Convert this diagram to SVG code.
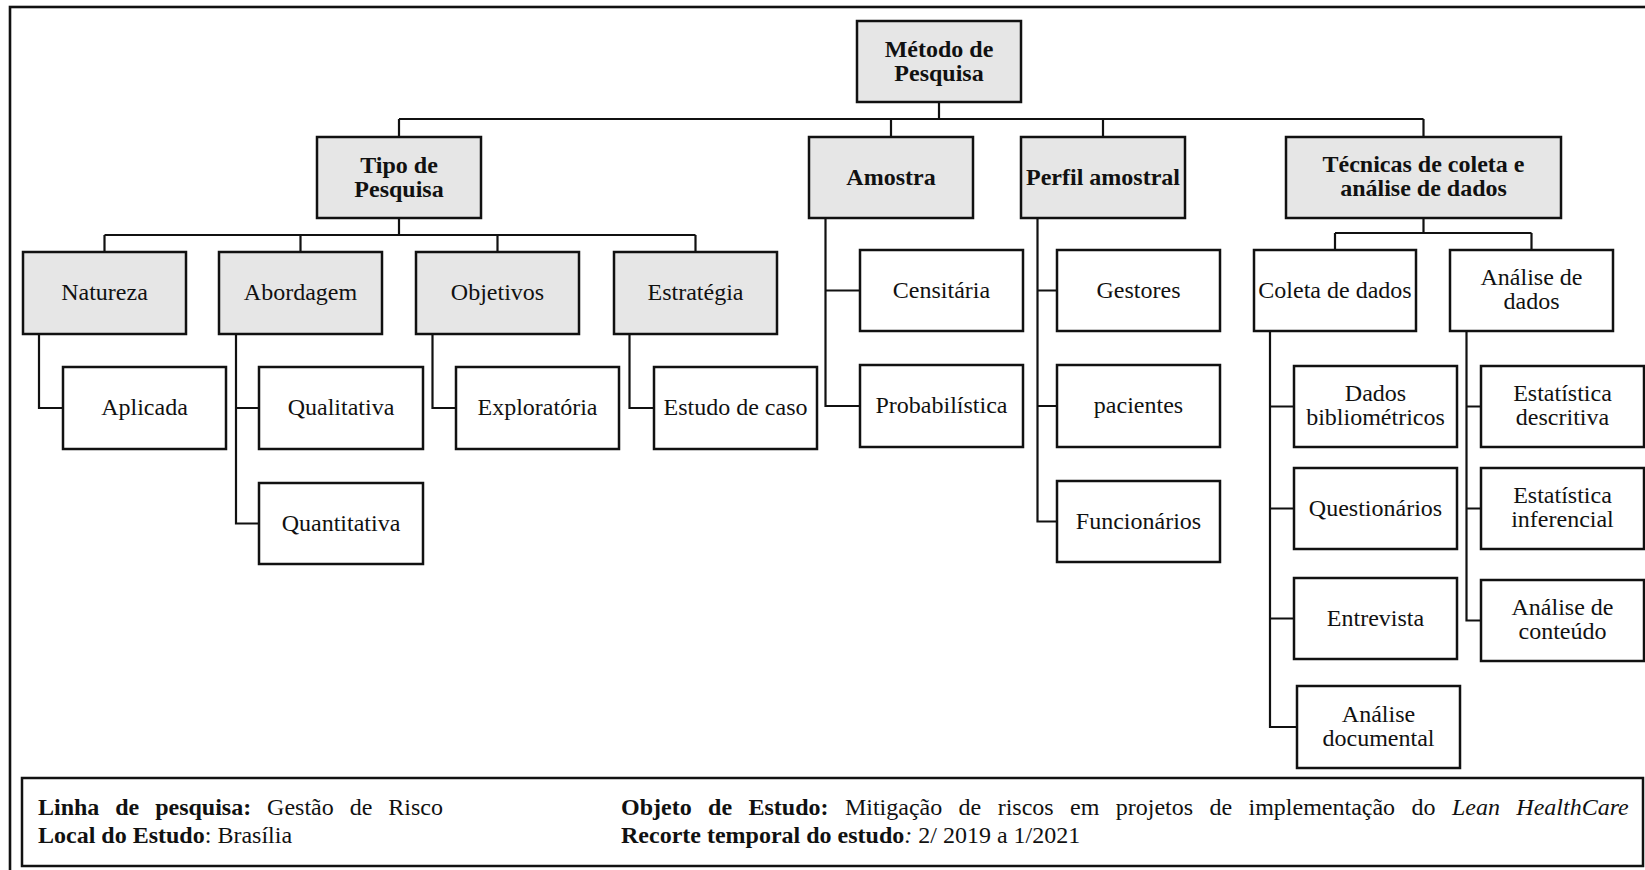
<svg xmlns="http://www.w3.org/2000/svg" width="1645" height="870" viewBox="0 0 1645 870">
  <style>
    .frame { fill: none; stroke: #111; stroke-width: 2.6; }
    .box { fill: #ffffff; stroke: #111; stroke-width: 2.5; }
    .hd { fill: #e6e6e6; }
    .link { fill: none; stroke: #111; stroke-width: 2.2; }
    text { font-family: "Liberation Serif", "Times New Roman", serif; font-size: 24px; fill: #111; }
    .t { text-anchor: middle; }
    .b { font-weight: bold; }
    .i { font-style: italic; }
  </style>
  <rect width="1645" height="870" fill="#ffffff"/>

  <!-- outer frame (open to the right and bottom) -->
  <rect class="frame" x="10" y="7" width="1660" height="880"/>

  <!-- connectors -->
  <g id="connectors" class="link">
    <path d="M939,102 V119 M399,119 H1423.5 M399,119 V137 M891,119 V137 M1103,119 V137 M1423.5,119 V137"/>
    <path d="M399,218 V235 M104.5,235 H695.5 M104.5,235 V252 M300.5,235 V252 M497.5,235 V252 M695.5,235 V252"/>
    <path d="M39,334 V408 H63"/>
    <path d="M236,334 V523.5 H259 M236,408 H259"/>
    <path d="M432.5,334 V408 H456"/>
    <path d="M629.5,334 V408 H654"/>
    <path d="M825.5,218 V406 H860 M825.5,290.5 H860"/>
    <path d="M1037.5,218 V521.5 H1057 M1037.5,290.5 H1057 M1037.5,406 H1057"/>
    <path d="M1423.5,218 V233 M1335,233 H1531.5 M1335,233 V250 M1531.5,233 V250"/>
    <path d="M1270,331 V727 H1297 M1270,406.5 H1294 M1270,508.5 H1294 M1270,618.5 H1294"/>
    <path d="M1466.5,331 V620.5 H1481 M1466.5,406.5 H1481 M1466.5,508.5 H1481"/>
  </g>

  <!-- level 0 -->
  <g id="metodo">
    <rect class="box hd" x="857" y="21" width="164" height="81"/>
    <text class="t b" x="939" y="57">Método de</text>
    <text class="t b" x="939" y="81">Pesquisa</text>
  </g>

  <!-- level 1 -->
  <g id="tipo">
    <rect class="box hd" x="317" y="137" width="164" height="81"/>
    <text class="t b" x="399" y="173">Tipo de</text>
    <text class="t b" x="399" y="197">Pesquisa</text>
  </g>
  <g id="amostra">
    <rect class="box hd" x="809" y="137" width="164" height="81"/>
    <text class="t b" x="891" y="185">Amostra</text>
  </g>
  <g id="perfil">
    <rect class="box hd" x="1021" y="137" width="164" height="81"/>
    <text class="t b" x="1103" y="185">Perfil amostral</text>
  </g>
  <g id="tecnicas">
    <rect class="box hd" x="1286" y="137" width="275" height="81"/>
    <text class="t b" x="1423.5" y="172">Técnicas de coleta e</text>
    <text class="t b" x="1423.5" y="196">análise de dados</text>
  </g>

  <!-- level 2 under "Tipo de Pesquisa" -->
  <g id="natureza">
    <rect class="box hd" x="23" y="252" width="163" height="82"/>
    <text class="t" x="104.5" y="300">Natureza</text>
  </g>
  <g id="abordagem">
    <rect class="box hd" x="219" y="252" width="163" height="82"/>
    <text class="t" x="300.5" y="300">Abordagem</text>
  </g>
  <g id="objetivos">
    <rect class="box hd" x="416" y="252" width="163" height="82"/>
    <text class="t" x="497.5" y="300">Objetivos</text>
  </g>
  <g id="estrategia">
    <rect class="box hd" x="614" y="252" width="163" height="82"/>
    <text class="t" x="695.5" y="300">Estratégia</text>
  </g>

  <!-- level 3 under "Tipo de Pesquisa" -->
  <g id="aplicada">
    <rect class="box" x="63" y="367" width="163" height="82"/>
    <text class="t" x="144.5" y="415">Aplicada</text>
  </g>
  <g id="qualitativa">
    <rect class="box" x="259" y="367" width="164" height="82"/>
    <text class="t" x="341" y="415">Qualitativa</text>
  </g>
  <g id="quantitativa">
    <rect class="box" x="259" y="483" width="164" height="81"/>
    <text class="t" x="341" y="531">Quantitativa</text>
  </g>
  <g id="exploratoria">
    <rect class="box" x="456" y="367" width="163" height="82"/>
    <text class="t" x="537.5" y="415">Exploratória</text>
  </g>
  <g id="estudo-caso">
    <rect class="box" x="654" y="367" width="163" height="82"/>
    <text class="t" x="735.5" y="415">Estudo de caso</text>
  </g>

  <!-- under "Amostra" -->
  <g id="censitaria">
    <rect class="box" x="860" y="250" width="163" height="81"/>
    <text class="t" x="941.5" y="298">Censitária</text>
  </g>
  <g id="probabilistica">
    <rect class="box" x="860" y="365" width="163" height="82"/>
    <text class="t" x="941.5" y="413">Probabilística</text>
  </g>

  <!-- under "Perfil amostral" -->
  <g id="gestores">
    <rect class="box" x="1057" y="250" width="163" height="81"/>
    <text class="t" x="1138.5" y="298">Gestores</text>
  </g>
  <g id="pacientes">
    <rect class="box" x="1057" y="365" width="163" height="82"/>
    <text class="t" x="1138.5" y="413">pacientes</text>
  </g>
  <g id="funcionarios">
    <rect class="box" x="1057" y="481" width="163" height="81"/>
    <text class="t" x="1138.5" y="529">Funcionários</text>
  </g>

  <!-- under "Técnicas de coleta e análise de dados" -->
  <g id="coleta">
    <rect class="box" x="1254" y="250" width="162" height="81"/>
    <text class="t" x="1335" y="298">Coleta de dados</text>
  </g>
  <g id="analise">
    <rect class="box" x="1450" y="250" width="163" height="81"/>
    <text class="t" x="1531.5" y="285">Análise de</text>
    <text class="t" x="1531.5" y="309">dados</text>
  </g>
  <g id="bibliometricos">
    <rect class="box" x="1294" y="366" width="163" height="81"/>
    <text class="t" x="1375.5" y="401">Dados</text>
    <text class="t" x="1375.5" y="425">bibliométricos</text>
  </g>
  <g id="questionarios">
    <rect class="box" x="1294" y="468" width="163" height="81"/>
    <text class="t" x="1375.5" y="516">Questionários</text>
  </g>
  <g id="entrevista">
    <rect class="box" x="1294" y="578" width="163" height="81"/>
    <text class="t" x="1375.5" y="626">Entrevista</text>
  </g>
  <g id="documental">
    <rect class="box" x="1297" y="686" width="163" height="82"/>
    <text class="t" x="1378.5" y="722">Análise</text>
    <text class="t" x="1378.5" y="746">documental</text>
  </g>
  <g id="descritiva">
    <rect class="box" x="1481" y="366" width="163" height="81"/>
    <text class="t" x="1562.5" y="401">Estatística</text>
    <text class="t" x="1562.5" y="425">descritiva</text>
  </g>
  <g id="inferencial">
    <rect class="box" x="1481" y="468" width="163" height="81"/>
    <text class="t" x="1562.5" y="503">Estatística</text>
    <text class="t" x="1562.5" y="527">inferencial</text>
  </g>
  <g id="conteudo">
    <rect class="box" x="1481" y="580" width="163" height="81"/>
    <text class="t" x="1562.5" y="615">Análise de</text>
    <text class="t" x="1562.5" y="639">conteúdo</text>
  </g>

  <!-- study summary panel -->
  <g id="resumo">
    <rect class="box" x="22" y="778" width="1621" height="88"/>
    <text x="38" y="815" style="word-spacing:9.9px"><tspan class="b">Linha de pesquisa:</tspan> Gestão de Risco</text>
    <text x="38" y="843"><tspan class="b">Local do Estudo</tspan>: Brasília</text>
    <text x="621" y="815" style="word-spacing:10.4px"><tspan class="b">Objeto de Estudo:</tspan> Mitigação de riscos em projetos de implementação do <tspan class="i">Lean HealthCare</tspan></text>
    <text x="621" y="843"><tspan class="b">Recorte temporal do estudo</tspan><tspan class="i">:</tspan> 2/ 2019 a 1/2021</text>
  </g>
</svg>
